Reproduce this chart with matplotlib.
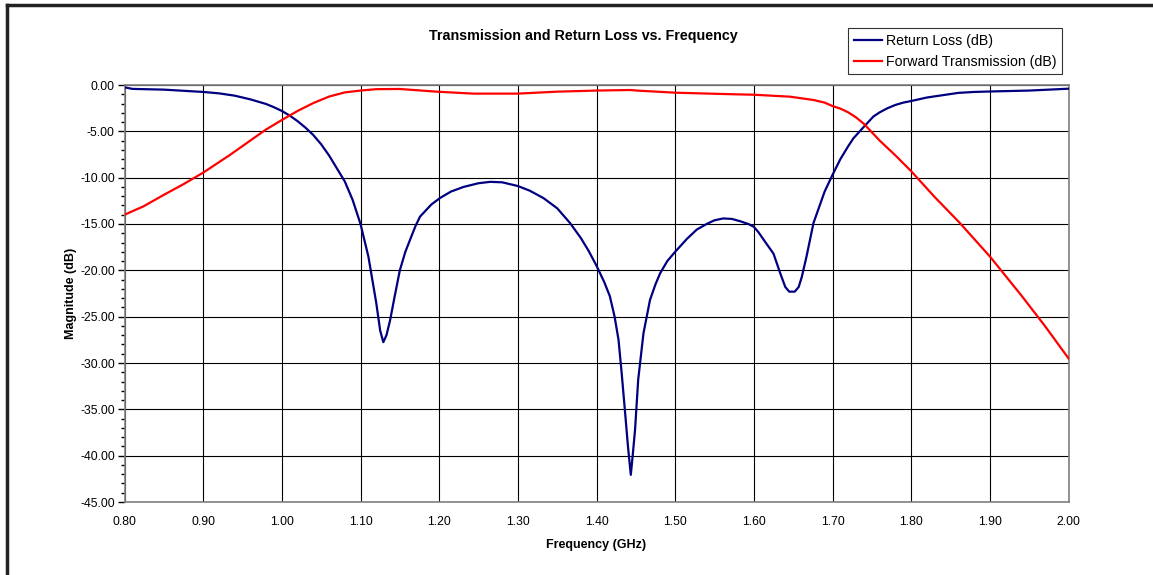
import matplotlib
matplotlib.use("Agg")
import matplotlib.pyplot as plt
from matplotlib.lines import Line2D
from matplotlib.ticker import MultipleLocator, FormatStrFormatter

plt.rcParams['font.family'] = ['Liberation Sans', 'DejaVu Sans']

# Return Loss (dB)
rl_freq = [0.800, 0.810, 0.850, 0.870, 0.900, 0.920, 0.940, 0.960, 0.980, 0.990,
           1.000, 1.010, 1.020, 1.030, 1.040, 1.050, 1.060, 1.070, 1.080, 1.090,
           1.100, 1.110, 1.120, 1.125, 1.129, 1.133, 1.1376, 1.143, 1.150, 1.157,
           1.163, 1.170, 1.1757, 1.190, 1.201, 1.215, 1.231, 1.250, 1.265, 1.280,
           1.300, 1.315, 1.3325, 1.350, 1.3664, 1.380, 1.390, 1.400, 1.410, 1.417,
           1.423, 1.428, 1.432, 1.4364, 1.440, 1.4436, 1.446, 1.449, 1.453, 1.4597,
           1.468, 1.475, 1.481, 1.490, 1.500, 1.515, 1.5275, 1.540, 1.550, 1.561,
           1.572, 1.5826, 1.593, 1.600, 1.606, 1.615, 1.625, 1.6335, 1.640, 1.645,
           1.652, 1.657, 1.661, 1.667, 1.6758, 1.690, 1.700, 1.710, 1.720, 1.7266,
           1.740, 1.752, 1.760, 1.770, 1.780, 1.790, 1.800, 1.820, 1.840, 1.860,
           1.880, 1.900, 1.950, 2.000]
rl_db = [-0.25, -0.42, -0.50, -0.60, -0.75, -0.90, -1.15, -1.55, -2.05, -2.40,
         -2.80, -3.30, -3.90, -4.60, -5.40, -6.40, -7.60, -9.00, -10.40, -12.40,
         -15.00, -18.50, -23.50, -26.50, -27.75, -27.00, -25.40, -23.00, -20.00, -18.00,
         -16.70, -15.20, -14.20, -12.90, -12.20, -11.50, -11.00, -10.60, -10.45, -10.50,
         -10.90, -11.40, -12.20, -13.30, -14.90, -16.50, -17.90, -19.50, -21.30, -22.80,
         -25.00, -27.50, -31.10, -35.40, -39.00, -42.07, -40.00, -37.20, -31.80, -26.80,
         -23.20, -21.50, -20.30, -19.00, -18.00, -16.60, -15.60, -15.00, -14.60, -14.40,
         -14.45, -14.70, -15.00, -15.30, -15.90, -17.00, -18.20, -20.30, -21.80, -22.30,
         -22.30, -21.80, -20.70, -18.50, -14.90, -11.50, -9.70, -8.00, -6.60, -5.75,
         -4.50, -3.40, -2.95, -2.50, -2.15, -1.90, -1.73, -1.35, -1.10, -0.85,
         -0.75, -0.70, -0.60, -0.40]

# Forward Transmission (dB)
ft_freq = [0.800, 0.824, 0.849, 0.875, 0.900, 0.934, 0.964, 0.980, 1.000, 1.020,
           1.040, 1.060, 1.080, 1.100, 1.120, 1.150, 1.197, 1.2435, 1.300, 1.3495,
           1.400, 1.443, 1.451, 1.500, 1.574, 1.600, 1.646, 1.676, 1.690, 1.700,
           1.710, 1.720, 1.730, 1.740, 1.750, 1.760, 1.780, 1.800, 1.830, 1.862,
           1.900, 1.940, 1.970, 2.000]
ft_db = [-14.00, -13.10, -11.90, -10.70, -9.46, -7.55, -5.75, -4.80, -3.78, -2.80,
         -1.95, -1.25, -0.80, -0.60, -0.45, -0.43, -0.72, -0.93, -0.93, -0.72,
         -0.60, -0.54, -0.60, -0.83, -1.00, -1.05, -1.26, -1.62, -1.90, -2.27,
         -2.55, -2.95, -3.50, -4.20, -5.10, -6.00, -7.60, -9.30, -12.10, -14.90,
         -18.50, -22.70, -26.00, -29.50]

fig = plt.figure(figsize=(11.53, 5.75), dpi=100)
ax = fig.add_axes([124.5/1153, 1-502/575, (1068.5-124.5)/1153, (502-85)/575])

ax.plot(rl_freq, rl_db, color='#000080', lw=1.6, label='Return Loss (dB)', zorder=3)
ax.plot(ft_freq, ft_db, color='#FF0000', lw=1.6, label='Forward Transmission (dB)', zorder=3)

ax.set_xlim(0.8, 2.0)
ax.set_ylim(-45, 0)
ax.xaxis.set_major_locator(MultipleLocator(0.1))
ax.xaxis.set_major_formatter(FormatStrFormatter('%.2f'))
ax.yaxis.set_major_locator(MultipleLocator(5))
ax.yaxis.set_minor_locator(MultipleLocator(1))
ax.yaxis.set_major_formatter(FormatStrFormatter('%.2f'))
ax.grid(True, which='major', color='#000000', lw=0.8)
ax.set_axisbelow(True)

ax.tick_params(axis='x', which='both', length=0, labelsize=8.8, pad=10)
ax.tick_params(axis='y', which='major', direction='out', length=5, width=1, labelsize=8.8, pad=2)
ax.tick_params(axis='y', which='minor', direction='out', length=3, width=1)

for s in ax.spines.values():
    s.set_color('#808080')
    s.set_linewidth(1.2)

ax.set_xlabel('Frequency (GHz)', fontsize=9, fontweight='bold', labelpad=8)
ax.set_ylabel('Magnitude (dB)', fontsize=9, fontweight='bold', labelpad=2)

fig.text(583/1153, 1-36/575, 'Transmission and Return Loss vs. Frequency',
         ha='center', va='center', fontsize=10.3, fontweight='bold')

leg = fig.legend(loc='upper left', bbox_to_anchor=(848/1153, 1-28/575),
                 fontsize=10.2, frameon=True, fancybox=False, borderpad=0.4,
                 labelspacing=0.5, handlelength=2.0, handletextpad=0.3,
                 borderaxespad=0)
leg.get_frame().set_edgecolor('#000000')
leg.get_frame().set_linewidth(0.8)

# outer frame (partially cropped)
fig.add_artist(Line2D([7/1153, 7/1153], [0, 1-5/575], color='#222222', lw=2.5, transform=fig.transFigure))
fig.add_artist(Line2D([7/1153, 1], [1-5/575, 1-5/575], color='#222222', lw=2.5, transform=fig.transFigure))

fig.savefig('out.png', dpi=100)
